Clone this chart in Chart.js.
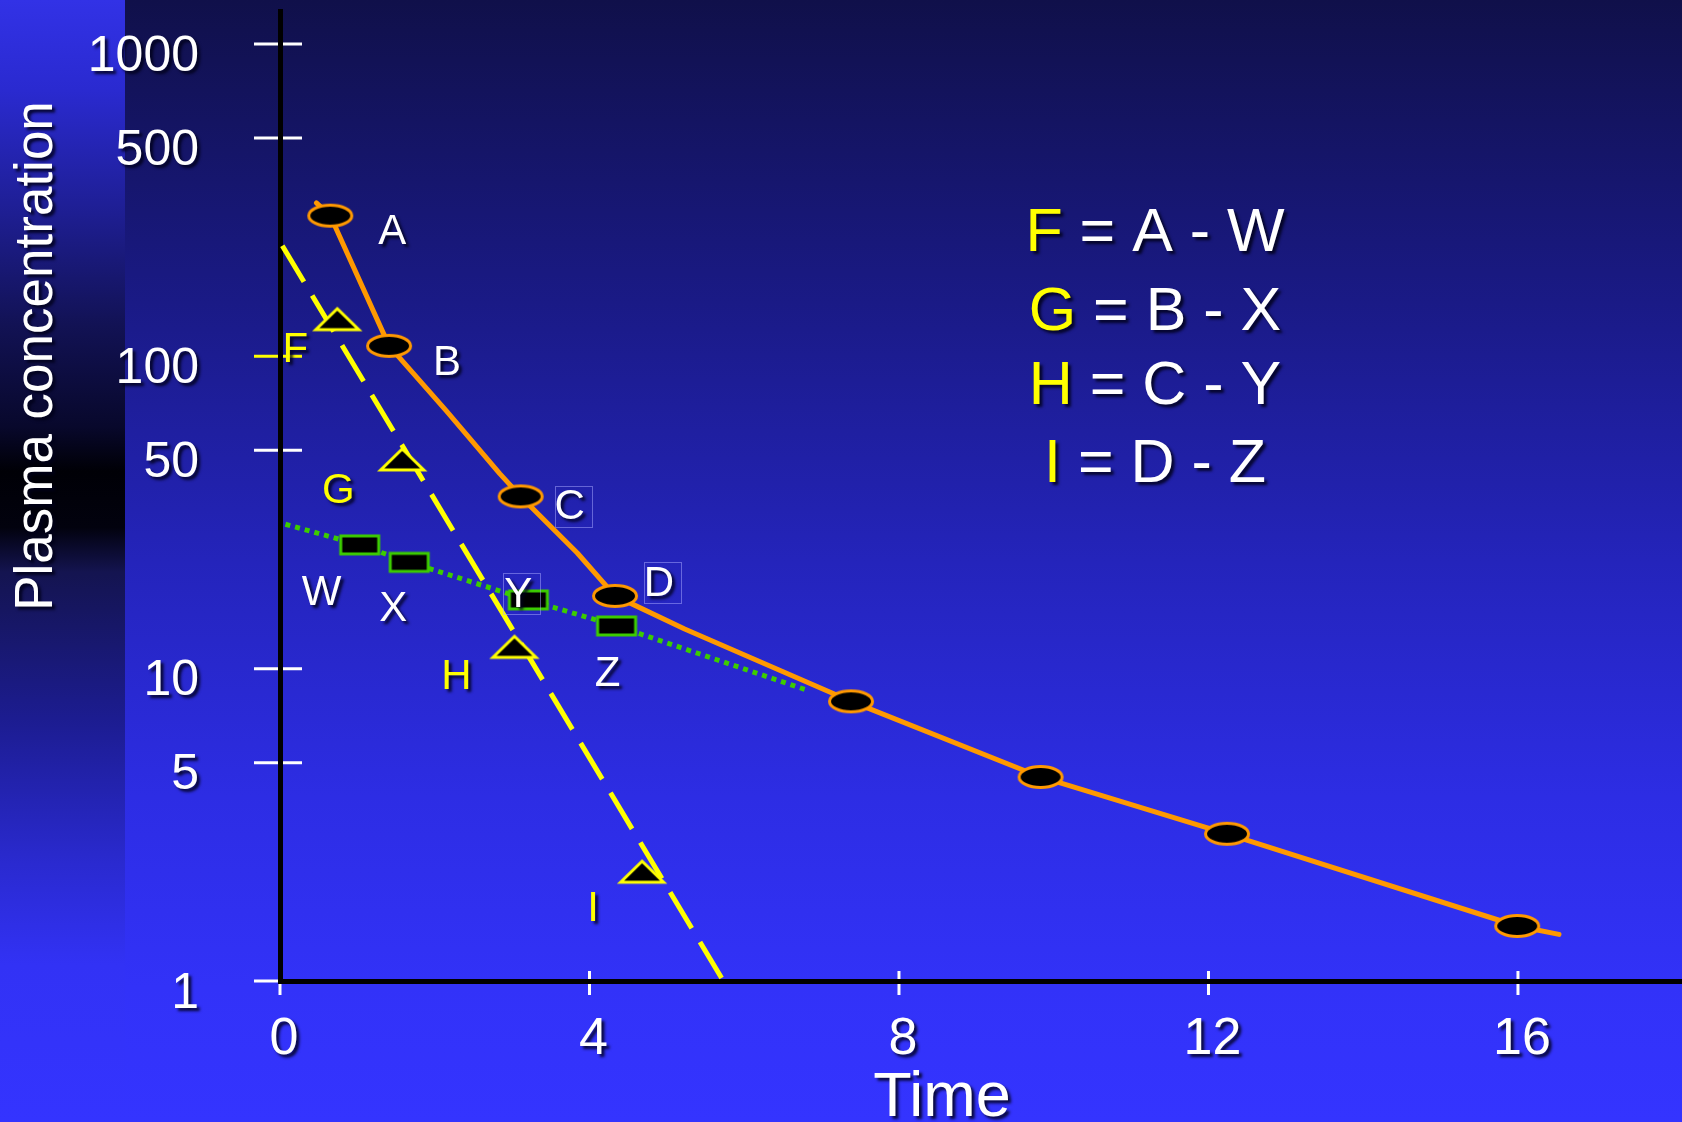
<!DOCTYPE html>
<html>
<head>
<meta charset="utf-8">
<title>Method of residuals</title>
<script src="https://cdn.jsdelivr.net/npm/chart.js@4.4.1/dist/chart.umd.min.js"></script>
<style>
  html, body { margin: 0; padding: 0; overflow: hidden; background: #1a1a80; }
  #wrap { width: 1682px; height: 1122px; }
</style>
</head>
<body>
<div id="wrap"><canvas id="chart" width="1682" height="1122"></canvas></div>
<script>
// Semi-log plasma concentration–time profile, resolved by the method of residuals.

// Axis ticks
const timeTicks = [0, 4, 8, 12, 16];
const concTicks = [1, 5, 10, 50, 100, 500, 1000];

// Observed concentrations (orange ellipses)
const observedNames = ['A', 'B', 'C', 'D', '', '', '', ''];
const observedTime = [0.65, 1.41, 3.11, 4.33, 7.38, 9.83, 12.24, 15.99];
const observedConc = [282, 108, 35.6, 17.1, 7.86, 4.50, 2.96, 1.50];

// Hand-drawn concentration curve through the observations
const curveTime = [0.47, 0.65, 1.41, 2.15, 2.84, 3.11, 3.84, 4.33, 5.23, 7.38, 9.83, 12.24, 15.99, 16.53];
const curveConc = [310, 282, 108, 66.9, 42.1, 35.6, 23.5, 17.1, 13.4, 7.86, 4.50, 2.96, 1.50, 1.41];

// Terminal phase extrapolated back to t = 0 (green dotted) and its read-off values
const terminalLineTime = [0.07, 1.03, 1.67, 3.21, 4.35, 6.79];
const terminalLineConc = [29.0, 24.9, 21.9, 16.6, 13.7, 8.57];
const backNames = ['W', 'X', 'Y', 'Z'];
const backTime = [1.03, 1.67, 3.21, 4.35];
const backConc = [24.9, 21.9, 16.6, 13.7];

// Residuals (yellow triangles) and the fitted residual line (yellow dashed)
const residualNames = ['F', 'G', 'H', 'I'];
const residualTime = [0.74, 1.58, 3.03, 4.68];
const residualConc = [131, 46.6, 11.7, 2.23];
const residualLineTime = [0.03, 5.73];
const residualLineConc = [226, 1];

// Equations listed at the right
const equationLeft = ['F', 'G', 'H', 'I'];
const equationRight = [' = A - W', ' = B - X', ' = C - Y', ' = D - Z'];

// ---- styling and layout ----
const FONT = '"Liberation Sans", Arial, Helvetica, sans-serif';
const WHITE = '#ffffff';
const YELLOW = '#ffff00';
const ORANGE = '#ff9900';
const GREEN = '#3ccc00';

// Letter label offsets (px) from their marker
const LABEL_OFFSETS = {
  A: [62, 13], B: [58, 14], C: [49, 8], D: [44, -15],
  W: [-38, 45], X: [-16, 44], Y: [-10, -8], Z: [-9, 45],
  F: [-42, 27], G: [-64, 28], H: [-58, 27], I: [-49, 34]
};
const BOXED_LABELS = ['C', 'D', 'Y'];

const toPoints = (xs, ys) => xs.map((x, i) => ({ x: x, y: ys[i] }));

function makeMarker(w, h, paint) {
  const c = document.createElement('canvas');
  c.width = w; c.height = h;
  paint(c.getContext('2d'));
  return c;
}
const ellipseMarker = makeMarker(48, 26, g => {
  g.beginPath();
  g.ellipse(24, 13, 21.5, 10.5, 0, 0, Math.PI * 2);
  g.fillStyle = '#000'; g.fill();
  g.lineWidth = 3; g.strokeStyle = ORANGE; g.stroke();
});
const rectMarker = makeMarker(44, 24, g => {
  g.fillStyle = '#000'; g.fillRect(3, 3, 38, 18);
  g.lineWidth = 3; g.strokeStyle = GREEN; g.strokeRect(3, 3, 38, 18);
});
const triangleMarker = makeMarker(54, 30, g => {
  g.beginPath();
  g.moveTo(27, 4); g.lineTo(48.5, 25); g.lineTo(5.5, 25); g.closePath();
  g.fillStyle = '#000'; g.fill();
  g.lineWidth = 3; g.lineJoin = 'miter'; g.strokeStyle = YELLOW; g.stroke();
});

function setShadow(ctx) {
  ctx.shadowColor = 'rgba(0, 0, 25, 0.85)';
  ctx.shadowOffsetX = 3;
  ctx.shadowOffsetY = 3;
  ctx.shadowBlur = 3;
}

function capText(ctx, text, cx, cy, size, color) {
  ctx.font = size + 'px ' + FONT;
  ctx.textAlign = 'center';
  ctx.textBaseline = 'alphabetic';
  ctx.fillStyle = color;
  ctx.fillText(text, cx, cy + 0.358 * size);
}

const slidePlugin = {
  id: 'slide',
  beforeDraw(chart) {
    const ctx = chart.ctx;
    const W = chart.width, H = chart.height;
    ctx.save();
    const bg = ctx.createLinearGradient(0, 0, 0, H);
    bg.addColorStop(0, '#10104a');
    bg.addColorStop(0.27, '#1a1a86');
    bg.addColorStop(0.5, '#2424bb');
    bg.addColorStop(0.71, '#2d2de4');
    bg.addColorStop(0.88, '#3232f8');
    bg.addColorStop(1, '#3434ff');
    ctx.fillStyle = bg;
    ctx.fillRect(0, 0, W, H);

    const strip = ctx.createLinearGradient(0, 0, 0, H);
    strip.addColorStop(0, '#3232e6');
    strip.addColorStop(0.08, '#2a2ad0');
    strip.addColorStop(0.19, '#1e1e92');
    strip.addColorStop(0.29, '#121254');
    strip.addColorStop(0.38, '#08082c');
    strip.addColorStop(0.42, '#000006');
    strip.addColorStop(0.47, '#02020e');
    strip.addColorStop(0.51, '#141450');
    strip.addColorStop(0.64, '#1c1c90');
    strip.addColorStop(0.77, '#2a2ad0');
    strip.addColorStop(0.86, '#3232f5');
    strip.addColorStop(1, '#3434ff');
    ctx.fillStyle = strip;
    ctx.fillRect(0, 0, 125, H);

    // tick marks crossing both axes
    const xs = chart.scales.x, ys = chart.scales.y;
    const axisX = chart.chartArea.left, axisY = chart.chartArea.bottom;
    ctx.lineWidth = 3;
    ctx.lineCap = 'butt';
    xs.ticks.forEach((t, i) => {
      const px = xs.getPixelForTick(i);
      ctx.strokeStyle = WHITE;
      ctx.beginPath(); ctx.moveTo(px, axisY - 10); ctx.lineTo(px, axisY + 14); ctx.stroke();
    });
    ys.ticks.forEach((t, i) => {
      const py = ys.getPixelForTick(i);
      ctx.strokeStyle = t.value === 100 ? YELLOW : WHITE;
      ctx.beginPath(); ctx.moveTo(axisX - 26, py); ctx.lineTo(axisX + 22, py); ctx.stroke();
    });
    ctx.restore();
  },
  afterDatasetsDraw(chart) {
    // tick labels are drawn after this hook and pick up the shadow
    chart.ctx.save();
    setShadow(chart.ctx);
  },
  afterDraw(chart) {
    const ctx = chart.ctx;
    ctx.restore();
    ctx.save();
    setShadow(ctx);

    // letter labels next to the markers
    const labelSets = [[0, observedNames, WHITE], [1, backNames, WHITE], [2, residualNames, YELLOW]];
    labelSets.forEach(([dsIndex, names, color]) => {
      const meta = chart.getDatasetMeta(dsIndex);
      names.forEach((name, i) => {
        if (!name) return;
        const el = meta.data[i];
        const off = LABEL_OFFSETS[name];
        const cx = el.x + off[0], cy = el.y + off[1];
        if (BOXED_LABELS.includes(name)) {
          ctx.save();
          ctx.shadowColor = 'transparent';
          ctx.strokeStyle = 'rgba(170, 170, 255, 0.5)';
          ctx.lineWidth = 1;
          ctx.strokeRect(Math.round(cx - 15) + 0.5, Math.round(cy - 18.5) + 0.5, 37, 41);
          ctx.restore();
        }
        capText(ctx, name, cx, cy, 42, color);
      });
    });

    // equations
    ctx.font = '61px ' + FONT;
    ctx.textAlign = 'left';
    ctx.textBaseline = 'alphabetic';
    const rowCenters = [229.5, 308, 382, 460];
    equationLeft.forEach((lhs, i) => {
      const full = lhs + equationRight[i];
      const w = ctx.measureText(full).width;
      const x0 = 1155 - w / 2;
      const base = rowCenters[i] + 0.358 * 61;
      ctx.fillStyle = YELLOW;
      ctx.fillText(lhs, x0, base);
      ctx.fillStyle = WHITE;
      ctx.fillText(equationRight[i], x0 + ctx.measureText(lhs).width, base);
    });

    // axis titles
    ctx.fillStyle = WHITE;
    ctx.font = '63px ' + FONT;
    ctx.textAlign = 'center';
    ctx.fillText('Time', 942, 1116);

    ctx.save();
    ctx.translate(52, 356);
    ctx.rotate(-Math.PI / 2);
    ctx.font = '53px ' + FONT;
    ctx.textAlign = 'center';
    ctx.fillText('Plasma concentration', 0, 0);
    ctx.restore();

    ctx.restore();
  }
};

new Chart(document.getElementById('chart'), {
  type: 'scatter',
  data: {
    datasets: [
      {
        label: 'Observed', data: toPoints(observedTime, observedConc),
        showLine: false, pointStyle: ellipseMarker, pointRadius: 12, order: 0
      },
      {
        label: 'Extrapolated terminal phase', data: toPoints(backTime, backConc),
        showLine: false, pointStyle: rectMarker, pointRadius: 12, order: 0
      },
      {
        label: 'Residuals', data: toPoints(residualTime, residualConc),
        showLine: false, pointStyle: triangleMarker, pointRadius: 12, order: 0
      },
      {
        label: 'Concentration curve', data: toPoints(curveTime, curveConc),
        showLine: true, borderColor: ORANGE, borderWidth: 5, pointRadius: 0,
        tension: 0, borderJoinStyle: 'round', borderCapStyle: 'round', order: 1
      },
      {
        label: 'Residual line', data: toPoints(residualLineTime, residualLineConc),
        showLine: true, borderColor: YELLOW, borderWidth: 5, borderDash: [42, 16],
        pointRadius: 0, tension: 0, order: 2
      },
      {
        label: 'Terminal line', data: toPoints(terminalLineTime, terminalLineConc),
        showLine: true, borderColor: GREEN, borderWidth: 5, borderDash: [5, 5],
        pointRadius: 0, tension: 0, order: 3
      }
    ]
  },
  options: {
    responsive: false,
    animation: false,
    devicePixelRatio: 1,
    layout: { autoPadding: false, padding: { top: 11, left: 0, right: 0, bottom: 0 } },
    plugins: { legend: { display: false }, tooltip: { enabled: false } },
    events: [],
    scales: {
      x: {
        type: 'linear', position: 'bottom', min: 0, max: 18.12,
        afterBuildTicks: s => { s.ticks = timeTicks.map(v => ({ value: v })); },
        afterFit: s => { s.height = 141; s.paddingLeft = 0; s.paddingRight = 0; },
        grid: { display: false, drawTicks: false },
        border: { display: true, color: '#000000', width: 5 },
        ticks: {
          color: WHITE, font: { family: FONT, size: 52 }, padding: 27, labelOffset: 4,
          maxRotation: 0, autoSkip: false, z: 1, callback: v => String(v)
        }
      },
      y: {
        type: 'logarithmic', position: 'left', min: 1, max: 1275,
        afterBuildTicks: s => { s.ticks = concTicks.map(v => ({ value: v })); },
        afterFit: s => { s.width = 280; s.paddingTop = 0; s.paddingBottom = 0; },
        grid: { display: false, drawTicks: false },
        border: { display: true, color: '#000000', width: 5 },
        ticks: {
          color: WHITE, font: { family: FONT, size: 50 }, padding: 81, labelOffset: 13,
          autoSkip: false, z: 1, callback: v => String(v)
        }
      }
    }
  },
  plugins: [slidePlugin]
});
</script>
</body>
</html>
